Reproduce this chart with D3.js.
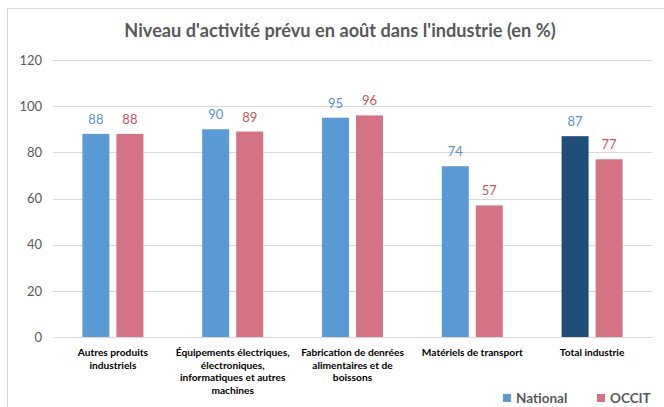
<!DOCTYPE html>
<html><head><meta charset="utf-8">
<script src="https://cdn.jsdelivr.net/npm/d3@7"></script>
<style>html,body{margin:0;padding:0;background:#fff;}svg{display:block;}</style>
</head><body>
<script>
const categories = [
  ["Autres produits", "industriels"],
  ["Équipements électriques,", "électroniques,", "informatiques et autres", "machines"],
  ["Fabrication de denrées", "alimentaires et de", "boissons"],
  ["Matériels de transport"],
  ["Total industrie"]
];
const seriesNames = ["National", "OCCIT"];
const national = [88, 90, 95, 74, 87];
const occit = [88, 89, 96, 57, 77];
const yTicks = [0, 20, 40, 60, 80, 100, 120];
const title = "Niveau d'activité prévu en août dans l'industrie (en %)";

(function() {
const W = 664, H = 407;
const font = "Lato, 'Open Sans', sans-serif";
const svg = d3.select("body").append("svg").attr("width", W).attr("height", H);

svg.append("rect").attr("x", 7.5).attr("y", 8.5).attr("width", W + 10).attr("height", H + 10)
  .attr("fill", "#fff").attr("stroke", "#D9D9D9");

const mLeft = 53, mRight = 652, mTop = 60, mBottom = 337;
const y = d3.scaleLinear().domain([0, 120]).range([mBottom, mTop]);
const x0 = d3.scaleBand().domain(d3.range(categories.length)).range([mLeft, mRight]).padding(0);
const step = x0.bandwidth();
const x1 = d3.scaleBand().domain(seriesNames).range([step / 2 - 30.5, step / 2 + 30.5]).paddingInner(0.206);

// gridlines
svg.append("g").selectAll("line").data(yTicks).join("line")
  .attr("x1", mLeft).attr("x2", mRight)
  .attr("y1", d => Math.round(y(d)) + 0.5).attr("y2", d => Math.round(y(d)) + 0.5)
  .attr("stroke", "#D9D9D9").attr("stroke-width", 1);

// y axis labels
const yAxis = d3.axisLeft(y).tickValues(yTicks).tickSize(0).tickPadding(0);
const ga = svg.append("g").attr("transform", `translate(${mLeft - 11},0)`).call(yAxis);
ga.select(".domain").remove();
ga.selectAll("text").attr("font-family", font).attr("font-size", 13).attr("fill", "#595959");

const colors = {National: "#5B9BD5", OCCIT: "#D37383"};
const labelColors = {National: "#5B8FCF", OCCIT: "#C9545C"};
const data = categories.map((c, i) => ({i, vals: [
  {s: "National", v: national[i]}, {s: "OCCIT", v: occit[i]}]}));

const g = svg.append("g").selectAll("g").data(data).join("g")
  .attr("transform", d => `translate(${x0(d.i)},0)`);
g.selectAll("rect").data(d => d.vals.map(v => ({...v, i: d.i}))).join("rect")
  .attr("x", d => x1(d.s)).attr("width", x1.bandwidth())
  .attr("y", d => y(d.v)).attr("height", d => y(0) - y(d.v))
  .attr("fill", d => (d.s === "National" && d.i === categories.length - 1) ? "#1F4E79" : colors[d.s]);
g.selectAll("text.val").data(d => d.vals).join("text").attr("class", "val")
  .attr("x", d => x1(d.s) + x1.bandwidth() / 2).attr("y", d => y(d.v) - 10)
  .attr("text-anchor", "middle").attr("font-family", font).attr("font-size", 13)
  .attr("fill", d => labelColors[d.s]).text(d => d.v);

// category labels
g.each(function(d) {
  const t = d3.select(this).append("text").attr("text-anchor", "middle")
    .attr("font-family", font).attr("font-size", 10.2).attr("font-weight", "bold").attr("fill", "#000");
  categories[d.i].forEach((line, k) => {
    t.append("tspan").attr("x", step / 2).attr("y", 356 + k * 12.7).text(line);
  });
});

// title
svg.append("text").attr("x", 340).attr("y", 37).attr("text-anchor", "middle")
  .attr("font-family", font).attr("font-size", 18.2).attr("font-weight", "bold")
  .attr("fill", "#595959").text(title);

// legend
const legX = [503, 597];
const lg = svg.append("g").selectAll("g").data(seriesNames).join("g")
  .attr("transform", (d, i) => `translate(${legX[i]},394)`);
lg.append("rect").attr("width", 8).attr("height", 8).attr("fill", d => colors[d]);
lg.append("text").attr("x", 13).attr("y", 8.5).attr("font-family", font).attr("font-size", 13.5)
  .attr("font-weight", "bold").attr("fill", "#595959").text(d => d);
})();
</script>
</body></html>
